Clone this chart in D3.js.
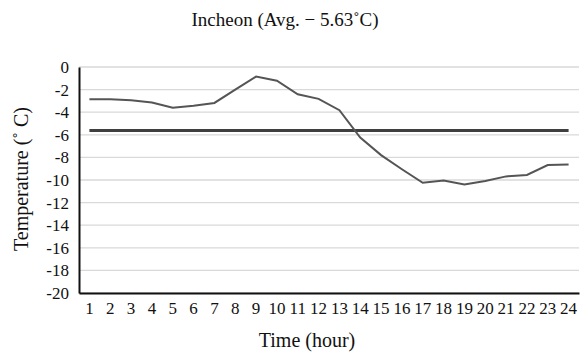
<!DOCTYPE html>
<html>
<head>
<meta charset="utf-8">
<script src="https://cdn.jsdelivr.net/npm/d3@7"></script>
<style>
  body { margin: 0; background: #fff; }
  svg text { font-family: 'Liberation Serif', 'Times New Roman', Times, serif; fill: #111; }
</style>
</head>
<body>
<div id="chart"></div>
<script>
// hours on the x axis
let hours = d3.range(1, 25).map(String)
// hourly temperature
let temps = [
  -2.85, -2.85, -2.95, -3.15, -3.6, -3.42, -3.18, -2.0, -0.85, -1.22, -2.42, -2.82,
  -3.82, -6.25, -7.8, -9.05, -10.25, -10.05, -10.4, -10.08, -9.68, -9.55, -8.68, -8.62
]
let avgTemp = -5.63
let yTicks = [0, -2, -4, -6, -8, -10, -12, -14, -16, -18, -20]

let width = 584, height = 352
let margin = { top: 67, right: 5, bottom: 59, left: 79 }
let serif = "'Liberation Serif', 'Times New Roman', serif"

let svg = d3.select('#chart').append('svg')
  .attr('width', width)
  .attr('height', height)
  .attr('font-family', serif)

let x = d3.scaleBand()
  .domain(hours)
  .range([margin.left, width - margin.right])
  .padding(0)

let y = d3.scaleLinear()
  .domain([-20, 0])
  .range([height - margin.bottom, margin.top])

// gridlines
svg.append('g')
  .selectAll('line')
  .data(yTicks)
  .join('line')
  .attr('x1', margin.left)
  .attr('x2', width - margin.right)
  .attr('y1', d => y(d))
  .attr('y2', d => y(d))
  .attr('stroke', '#d9d9d9')
  .attr('stroke-width', 1.3)

// y axis (plain hyphen for the minus, like the original)
let yAxis = svg.append('g')
  .attr('transform', `translate(${margin.left},0)`)
  .call(d3.axisLeft(y).tickValues(yTicks).tickSize(0).tickPadding(10).tickFormat(d => String(d)))
yAxis.attr('font-family', serif).attr('font-size', 17)
yAxis.select('.domain').attr('stroke', '#111').attr('stroke-width', 2)
yAxis.selectAll('.tick text').attr('fill', '#111')

// x axis
let xAxis = svg.append('g')
  .attr('transform', `translate(0,${height - margin.bottom})`)
  .call(d3.axisBottom(x).tickSize(0).tickPadding(9))
xAxis.attr('font-family', serif).attr('font-size', 17)
xAxis.select('.domain').attr('stroke', '#111').attr('stroke-width', 2.2)
xAxis.selectAll('.tick text').attr('fill', '#111')

let cx = d => x(d) + x.bandwidth() / 2

// average line
svg.append('line')
  .attr('x1', cx(hours[0]))
  .attr('x2', cx(hours[hours.length - 1]))
  .attr('y1', y(avgTemp))
  .attr('y2', y(avgTemp))
  .attr('stroke', '#3f3f3f')
  .attr('stroke-width', 3)

// temperature line
let line = d3.line()
  .x((d, i) => cx(hours[i]))
  .y(d => y(d))

svg.append('path')
  .datum(temps)
  .attr('d', line)
  .attr('fill', 'none')
  .attr('stroke', '#555')
  .attr('stroke-width', 2)

// title
svg.append('text')
  .attr('x', 285)
  .attr('y', 26)
  .attr('text-anchor', 'middle')
  .attr('font-size', 19)
  .text('Incheon (Avg. \u2212 5.63\u02DAC)')

// axis titles
svg.append('text')
  .attr('x', 307)
  .attr('y', 347)
  .attr('text-anchor', 'middle')
  .attr('font-size', 20)
  .text('Time (hour)')

svg.append('text')
  .attr('transform', 'translate(28,179) rotate(-90)')
  .attr('text-anchor', 'middle')
  .attr('font-size', 20)
  .text('Temperature (\u02DA C)')
</script>
</body>
</html>
